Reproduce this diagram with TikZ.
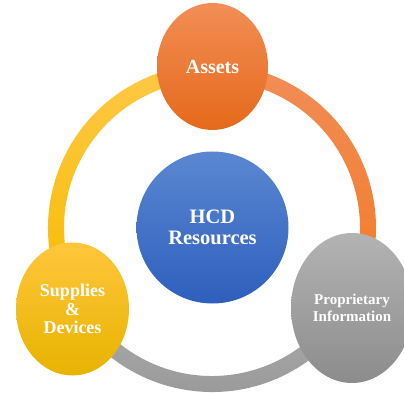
\documentclass[tikz,border=0pt]{standalone}
\usepackage{fontspec}
\setmainfont{Liberation Serif}
\usetikzlibrary{shapes.geometric}

\definecolor{orangeTop}{HTML}{F28E55}
\definecolor{orangeMid}{HTML}{F47B2C}
\definecolor{orangeBot}{HTML}{E5691B}
\definecolor{blueTop}{HTML}{5B87D1}
\definecolor{blueBot}{HTML}{2E5FBD}
\definecolor{goldTop}{HTML}{FFC63C}
\definecolor{goldMid}{HTML}{FFC300}
\definecolor{goldBot}{HTML}{E8B300}
\definecolor{greyTop}{HTML}{B3B3B3}
\definecolor{greyBot}{HTML}{8C8C8C}
% ring colours
\definecolor{ringOrangeTop}{HTML}{F08D58}
\definecolor{ringOrangeBot}{HTML}{F47A24}
\definecolor{ringGreyTop}{HTML}{ACACAC}
\definecolor{ringGreyBot}{HTML}{969696}
\definecolor{ringGoldTop}{HTML}{FFC846}
\definecolor{ringGoldBot}{HTML}{F5BC00}

\begin{document}
\begin{tikzpicture}[x=1pt,y=1pt,
    blob/.style={ellipse, inner sep=0pt, text=white, align=center}]
    \useasboundingbox (0,0) rectangle (404,394);
    \coordinate (hub) at (212,166);

    % ring, one shaded band per part
    \shade[top color=ringOrangeTop, bottom color=ringOrangeBot]
        ([shift={(90:164)}]hub) arc (90:-30:164) -- ([shift={(-30:148)}]hub) arc (-30:90:148) -- cycle;
    \shade[top color=ringGreyTop, bottom color=ringGreyBot]
        ([shift={(210:164)}]hub) arc (210:330:164) -- ([shift={(330:148)}]hub) arc (330:210:148) -- cycle;
    \shade[top color=ringGoldTop, bottom color=ringGoldBot]
        ([shift={(210:164)}]hub) arc (210:90:164) -- ([shift={(90:148)}]hub) arc (90:210:148) -- cycle;

    % centre and the three resources
    \node[blob, circle, minimum size=152pt, top color=blueTop, bottom color=blueBot,
        font=\fontsize{20.5}{21}\selectfont\bfseries] (hcd) at (212.5,166.5) {HCD\\Resources};
    \node[blob, minimum width=111pt, minimum height=127pt,
        top color=orangeTop, middle color=orangeMid, bottom color=orangeBot,
        font=\fontsize{20}{21}\selectfont\bfseries] (assets) at (212.5,327.5) {Assets};
    \node[blob, minimum width=113pt, minimum height=133pt,
        top color=goldTop, middle color=goldMid, bottom color=goldBot,
        font=\fontsize{18}{18.7}\selectfont\bfseries] (supplies) at (72.5,85) {Supplies\\\&\\Devices};
    \node[blob, minimum width=122pt, minimum height=150pt, top color=greyTop, bottom color=greyBot,
        font=\fontsize{15}{16.3}\selectfont\bfseries] (info) at (352,86) {Proprietary\\Information};
\end{tikzpicture}
\end{document}
